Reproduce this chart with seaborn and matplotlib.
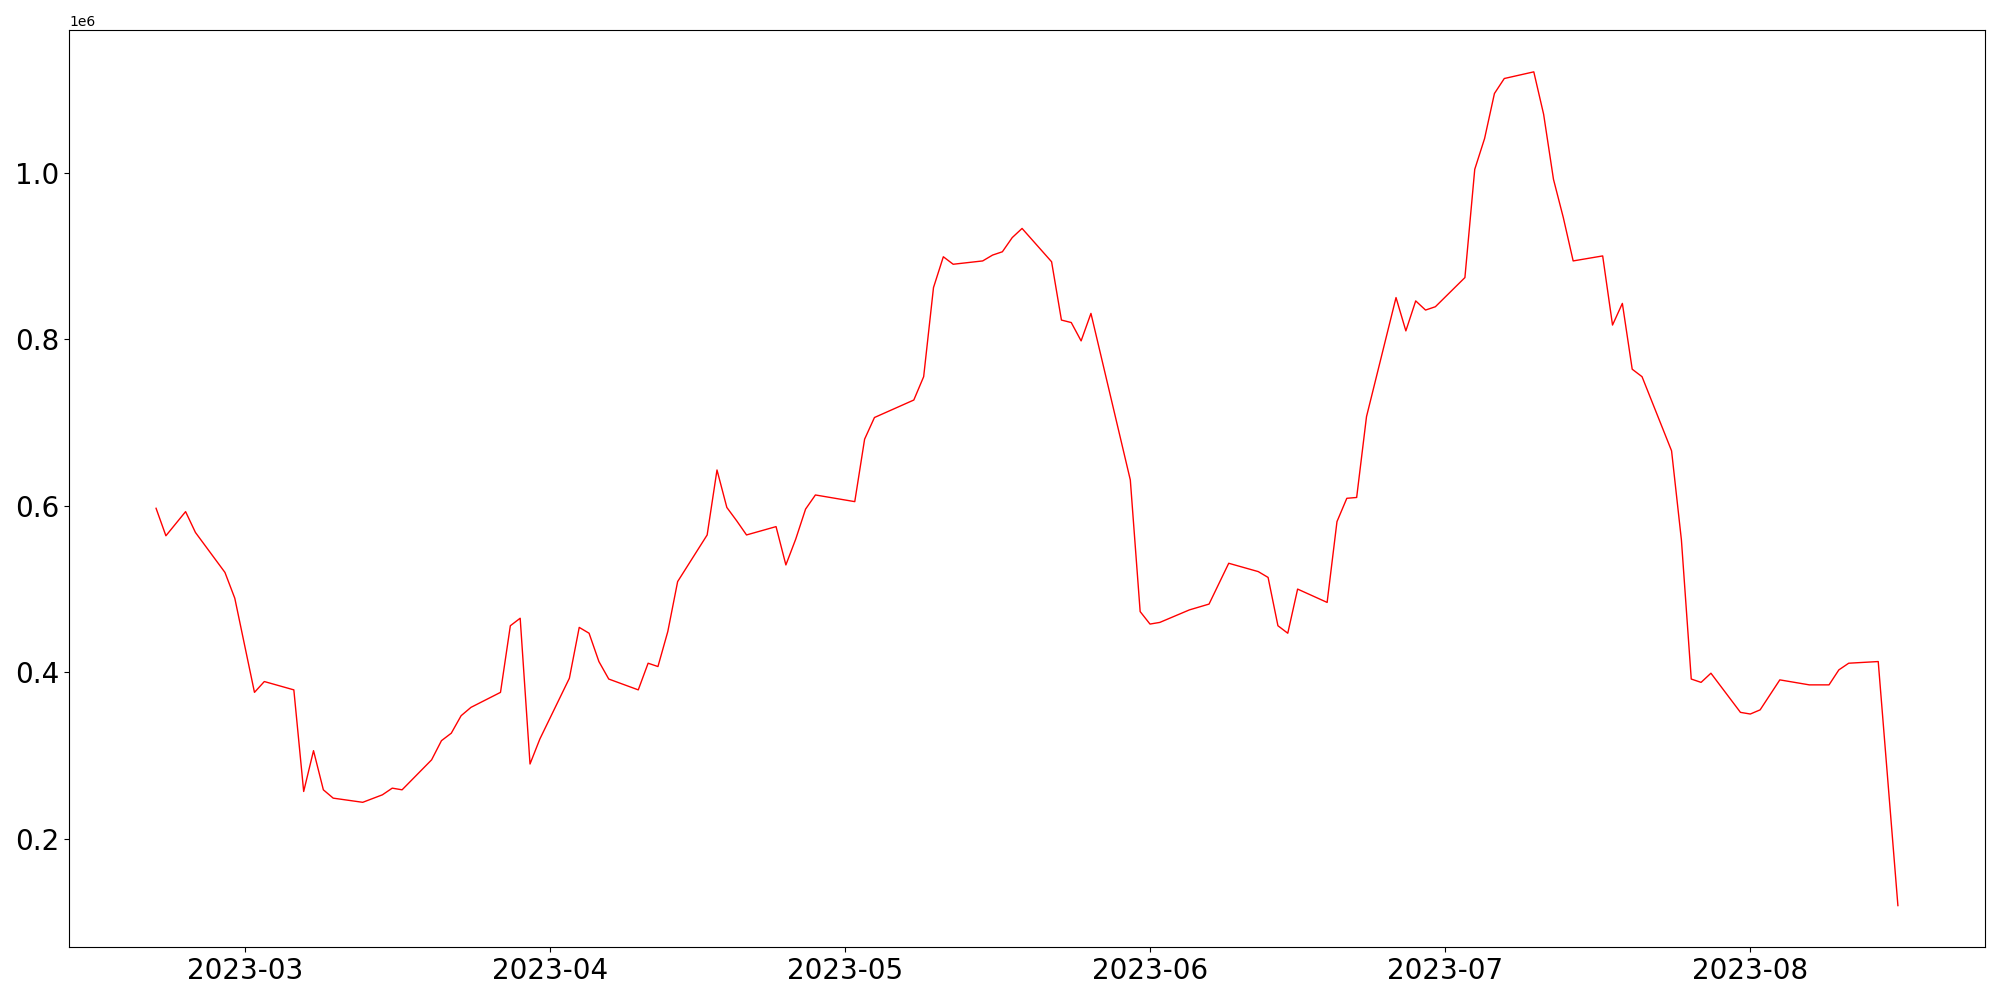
import pandas as pd
import matplotlib.pyplot as plt
import seaborn as sns

# values
dates = [
    "2023-02-20", "2023-02-21", "2023-02-23", "2023-02-24", "2023-02-27", "2023-02-28",
    "2023-03-02", "2023-03-03", "2023-03-06", "2023-03-07", "2023-03-08", "2023-03-09",
    "2023-03-10", "2023-03-13", "2023-03-15", "2023-03-16", "2023-03-17", "2023-03-20",
    "2023-03-21", "2023-03-22", "2023-03-23", "2023-03-24", "2023-03-27", "2023-03-28",
    "2023-03-29", "2023-03-30", "2023-03-31", "2023-04-03", "2023-04-04", "2023-04-05",
    "2023-04-06", "2023-04-07", "2023-04-10", "2023-04-11", "2023-04-12", "2023-04-13",
    "2023-04-14", "2023-04-17", "2023-04-18", "2023-04-19", "2023-04-20", "2023-04-21",
    "2023-04-24", "2023-04-25", "2023-04-26", "2023-04-27", "2023-04-28", "2023-05-02",
    "2023-05-03", "2023-05-04", "2023-05-08", "2023-05-09", "2023-05-10", "2023-05-11",
    "2023-05-12", "2023-05-15", "2023-05-16", "2023-05-17", "2023-05-18", "2023-05-19",
    "2023-05-22", "2023-05-23", "2023-05-24", "2023-05-25", "2023-05-26", "2023-05-30",
    "2023-05-31", "2023-06-01", "2023-06-02", "2023-06-05", "2023-06-07", "2023-06-09",
    "2023-06-12", "2023-06-13", "2023-06-14", "2023-06-15", "2023-06-16", "2023-06-19",
    "2023-06-20", "2023-06-21", "2023-06-22", "2023-06-23", "2023-06-26", "2023-06-27",
    "2023-06-28", "2023-06-29", "2023-06-30", "2023-07-03", "2023-07-04", "2023-07-05",
    "2023-07-06", "2023-07-07", "2023-07-10", "2023-07-11", "2023-07-12", "2023-07-13",
    "2023-07-14", "2023-07-17", "2023-07-18", "2023-07-19", "2023-07-20", "2023-07-21",
    "2023-07-24", "2023-07-25", "2023-07-26", "2023-07-27", "2023-07-28", "2023-07-31",
    "2023-08-01", "2023-08-02", "2023-08-04", "2023-08-07", "2023-08-09", "2023-08-10",
    "2023-08-11", "2023-08-14", "2023-08-16",
]

values = [
    597000, 564000, 593000, 568000, 520000, 489000,
    376000, 389000, 379000, 257000, 306000, 259000,
    249000, 244000, 253000, 261000, 259000, 295000,
    318000, 327000, 348000, 358000, 376000, 456000,
    465000, 290000, 320000, 393000, 454000, 447000,
    413000, 392000, 379000, 411000, 407000, 449000,
    509000, 565000, 643000, 598000, 582000, 565000,
    575000, 529000, 560000, 596000, 613000, 605000,
    680000, 706000, 727000, 755000, 862000, 899000,
    890000, 894000, 901000, 905000, 922000, 933000,
    893000, 823000, 820000, 798000, 831000, 631000,
    473000, 458000, 460000, 475000, 482000, 531000,
    521000, 514000, 456000, 447000, 500000, 484000,
    581000, 609000, 610000, 707000, 850000, 810000,
    846000, 835000, 839000, 874000, 1004000, 1041000,
    1095000, 1113000, 1121000, 1070000, 992000, 946000,
    894000, 900000, 817000, 843000, 764000, 755000,
    666000, 559000, 392000, 388000, 399000, 352000,
    350000, 355000, 391000, 385000, 385000, 403000,
    411000, 413000, 120000,
]

df = pd.DataFrame({"date": pd.to_datetime(dates), "value": values})

plt.figure(figsize=(20, 10))
ax = sns.lineplot(data=df, x="date", y="value", color="red", linewidth=1)
ax.set_xlabel("")
ax.set_ylabel("")
plt.xticks(fontsize=20)
plt.yticks(fontsize=20)
plt.tight_layout()
plt.savefig("out.png", dpi=100)
plt.close()
